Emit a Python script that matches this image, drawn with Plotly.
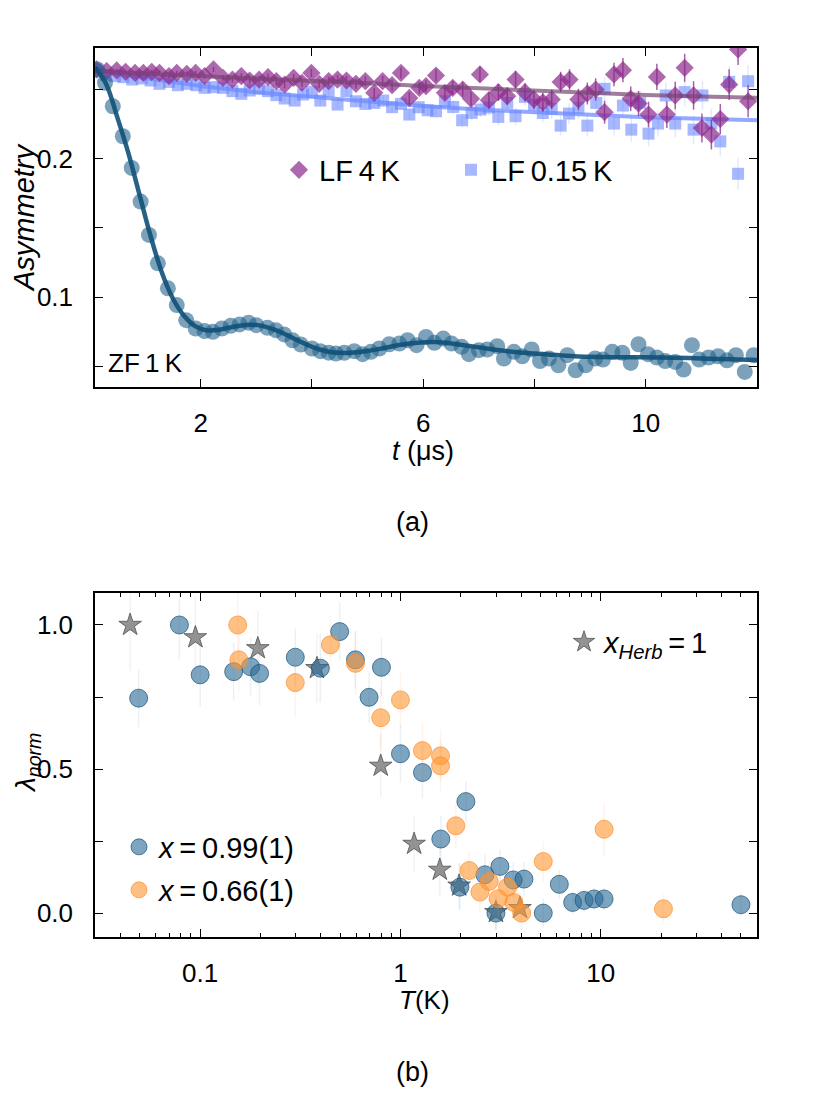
import plotly.graph_objects as go

W, H = 830, 1106

# ---------------- Panel (a): asymmetry vs time ----------------
zf_t = [0.14, 0.28, 0.42, 0.60, 0.76, 0.92, 1.07, 1.23, 1.41, 1.57, 1.74, 1.91, 2.07, 2.22, 2.38,
        2.54, 2.70, 2.86, 3.00, 3.20, 3.35, 3.50, 3.65, 3.80, 4.00, 4.15, 4.30, 4.43, 4.58, 4.76,
        4.91, 5.06, 5.21, 5.39, 5.57, 5.72, 5.88, 6.05, 6.20, 6.36, 6.51, 6.69, 6.82, 7.00, 7.15,
        7.33, 7.45, 7.63, 7.78, 7.95, 8.10, 8.26, 8.43, 8.59, 8.74, 8.92, 9.09, 9.23, 9.40, 9.58,
        9.73, 9.87, 10.04, 10.20, 10.35, 10.53, 10.68, 10.83, 10.96, 11.13, 11.30, 11.46, 11.62,
        11.78, 11.94]
zf_a = [0.2645, 0.2549, 0.2379, 0.2162, 0.1933, 0.1690, 0.1449, 0.1244, 0.1063, 0.0942, 0.0833,
        0.0773, 0.0754, 0.0749, 0.0773, 0.0792, 0.0802, 0.0815, 0.0797, 0.0778, 0.0761, 0.0730,
        0.0688, 0.0657, 0.0628, 0.0609, 0.0598, 0.0592, 0.0597, 0.0609, 0.0587, 0.0604, 0.0628,
        0.0659, 0.0664, 0.0688, 0.0652, 0.0712, 0.0669, 0.0700, 0.0664, 0.0640, 0.0587, 0.0616,
        0.0621, 0.0645, 0.0556, 0.0604, 0.0572, 0.0621, 0.0538, 0.0556, 0.0507, 0.0580, 0.0471,
        0.0507, 0.0556, 0.0548, 0.0604, 0.0597, 0.0524, 0.0659, 0.0587, 0.0563, 0.0538, 0.0531,
        0.0476, 0.0652, 0.0548, 0.0563, 0.0572, 0.0543, 0.0580, 0.0459, 0.0580]

zf_fit_t = [0.1, 0.3, 0.5, 0.7, 0.9, 1.1, 1.3, 1.5, 1.7, 1.9, 2.1, 2.3, 2.5, 2.7, 2.9, 3.1, 3.3,
            3.5, 3.7, 3.9, 4.1, 4.3, 4.5, 4.7, 5.0, 5.3, 5.6, 5.9, 6.2, 6.5, 6.8, 7.2, 7.6, 8.0,
            8.5, 9.0, 9.5, 10.0, 10.5, 11.0, 11.5, 12.0]
zf_fit_a = [0.2660, 0.2540, 0.2300, 0.2040, 0.1740, 0.1440, 0.1180, 0.0990, 0.0865, 0.0790,
            0.0760, 0.0762, 0.0778, 0.0793, 0.0800, 0.0792, 0.0768, 0.0735, 0.0695, 0.0658,
            0.0625, 0.0605, 0.0597, 0.0598, 0.0610, 0.0632, 0.0655, 0.0670, 0.0675, 0.0665,
            0.0648, 0.0625, 0.0605, 0.0592, 0.0578, 0.0568, 0.0565, 0.0565, 0.0562, 0.0556,
            0.0550, 0.0545]

lf4_t = [0.13, 0.31, 0.49, 0.65, 0.82, 0.97, 1.12, 1.26, 1.43, 1.57, 1.75, 1.91, 2.07, 2.23, 2.40,
         2.57, 2.73, 2.88, 3.05, 3.21, 3.36, 3.51, 3.67, 3.82, 3.99, 4.13, 4.30, 4.46, 4.62, 4.79,
         4.96, 5.12, 5.27, 5.44, 5.60, 5.75, 5.93, 6.05, 6.23, 6.39, 6.53, 6.71, 6.86, 7.02, 7.18,
         7.35, 7.51, 7.66, 7.83, 7.99, 8.15, 8.31, 8.47, 8.63, 8.79, 8.95, 9.10, 9.26, 9.43, 9.59,
         9.73, 9.87, 10.05, 10.20, 10.38, 10.53, 10.70, 10.86, 11.01, 11.18, 11.34, 11.50, 11.66,
         11.84]
lf4_a = [0.2645, 0.2633, 0.2638, 0.2628, 0.2620, 0.2620, 0.2628, 0.2620, 0.2597, 0.2620, 0.2613,
         0.2620, 0.2597, 0.2645, 0.2584, 0.2572, 0.2597, 0.2565, 0.2572, 0.2589, 0.2560, 0.2536,
         0.2584, 0.2549, 0.2620, 0.2541, 0.2560, 0.2572, 0.2565, 0.2541, 0.2560, 0.2476, 0.2560,
         0.2531, 0.2620, 0.2439, 0.2512, 0.2524, 0.2601, 0.2476, 0.2512, 0.2500, 0.2433, 0.2609,
         0.2423, 0.2481, 0.2452, 0.2572, 0.2481, 0.2428, 0.2408, 0.2428, 0.2555, 0.2572, 0.2428,
         0.2471, 0.2500, 0.2336, 0.2609, 0.2640, 0.2433, 0.2399, 0.2319, 0.2591, 0.2319, 0.2457,
         0.2657, 0.2457, 0.2222, 0.2174, 0.2287, 0.2536, 0.2790, 0.2415]
lf4_err = [0.0012, 0.0012, 0.0013, 0.0013, 0.0014, 0.0014, 0.0015, 0.0015, 0.0016, 0.0016, 0.0017,
           0.0017, 0.0018, 0.0019, 0.0020, 0.0021, 0.0022, 0.0023, 0.0024, 0.0025, 0.0026, 0.0027,
           0.0028, 0.0029, 0.0030, 0.0031, 0.0032, 0.0033, 0.0034, 0.0035, 0.0036, 0.0037, 0.0038,
           0.0039, 0.0040, 0.0041, 0.0042, 0.0043, 0.0045, 0.0047, 0.0049, 0.0051, 0.0053, 0.0055,
           0.0057, 0.0059, 0.0061, 0.0063, 0.0065, 0.0067, 0.0069, 0.0071, 0.0073, 0.0075, 0.0077,
           0.0079, 0.0081, 0.0083, 0.0085, 0.0087, 0.0089, 0.0091, 0.0093, 0.0095, 0.0097, 0.0099,
           0.0101, 0.0103, 0.0105, 0.0107, 0.0109, 0.0111, 0.0113, 0.0115]

lf015_t = [0.13, 0.30, 0.46, 0.61, 0.77, 0.94, 1.10, 1.26, 1.43, 1.59, 1.75, 1.92, 2.07, 2.23,
           2.40, 2.57, 2.73, 2.88, 3.05, 3.21, 3.36, 3.51, 3.69, 3.84, 4.00, 4.15, 4.30, 4.46,
           4.62, 4.79, 4.96, 5.12, 5.28, 5.44, 5.60, 5.75, 5.92, 6.08, 6.23, 6.39, 6.54, 6.70,
           6.87, 7.03, 7.18, 7.35, 7.51, 7.66, 7.83, 7.99, 8.15, 8.31, 8.47, 8.62, 8.79, 8.95,
           9.11, 9.26, 9.43, 9.59, 9.74, 9.90, 10.05, 10.22, 10.36, 10.53, 10.70, 10.86, 11.02,
           11.18, 11.34, 11.50, 11.66, 11.84]
lf015_a = [0.2645, 0.2604, 0.2597, 0.2589, 0.2572, 0.2580, 0.2565, 0.2541, 0.2555, 0.2531, 0.2541,
           0.2531, 0.2512, 0.2517, 0.2512, 0.2488, 0.2469, 0.2493, 0.2507, 0.2488, 0.2459, 0.2435,
           0.2420, 0.2464, 0.2483, 0.2420, 0.2488, 0.2391, 0.2488, 0.2415, 0.2396, 0.2403, 0.2420,
           0.2372, 0.2396, 0.2319, 0.2372, 0.2350, 0.2343, 0.2415, 0.2374, 0.2278, 0.2331, 0.2355,
           0.2370, 0.2302, 0.2403, 0.2307, 0.2447, 0.2391, 0.2330, 0.2360, 0.2239, 0.2326, 0.2367,
           0.2239, 0.2403, 0.2505, 0.2254, 0.2384, 0.2210, 0.2403, 0.2181, 0.2254, 0.2457, 0.2254,
           0.2481, 0.2210, 0.2457, 0.2254, 0.2125, 0.2555, 0.1891, 0.2560]
lf015_err = [0.0012, 0.0012, 0.0013, 0.0013, 0.0014, 0.0014, 0.0015, 0.0015, 0.0016, 0.0016,
             0.0017, 0.0017, 0.0018, 0.0019, 0.0020, 0.0021, 0.0022, 0.0023, 0.0024, 0.0025,
             0.0026, 0.0027, 0.0028, 0.0029, 0.0030, 0.0031, 0.0032, 0.0033, 0.0034, 0.0035,
             0.0036, 0.0037, 0.0038, 0.0039, 0.0040, 0.0041, 0.0042, 0.0043, 0.0045, 0.0047,
             0.0049, 0.0051, 0.0053, 0.0055, 0.0057, 0.0059, 0.0061, 0.0063, 0.0065, 0.0067,
             0.0069, 0.0071, 0.0073, 0.0075, 0.0077, 0.0079, 0.0081, 0.0083, 0.0085, 0.0087,
             0.0089, 0.0091, 0.0093, 0.0095, 0.0097, 0.0099, 0.0101, 0.0103, 0.0105, 0.0107,
             0.0109, 0.0111, 0.0113, 0.0115]

lf4_fit_t = [0.1, 1.0, 2.0, 3.0, 4.0, 5.0, 6.0, 7.0, 8.0, 9.0, 10.0, 11.0, 12.0]
lf4_fit_a = [0.2630, 0.2615, 0.2600, 0.2583, 0.2565, 0.2545, 0.2525, 0.2507, 0.2490, 0.2474,
             0.2460, 0.2449, 0.2440]
lf015_fit_t = [0.1, 1.0, 2.0, 3.0, 4.0, 5.0, 6.0, 7.0, 8.0, 9.0, 10.0, 11.0, 12.0]
lf015_fit_a = [0.2635, 0.2580, 0.2525, 0.2480, 0.2445, 0.2410, 0.2380, 0.2355, 0.2335, 0.2315,
               0.2300, 0.2288, 0.2277]

a_xticks = [2, 4, 6, 8, 10, 12]
a_xticktext = ["2", "", "6", "", "10", ""]
a_yticks = [0.05, 0.10, 0.15, 0.20, 0.25]
a_yticktext = ["", "0.1", "", "0.2", ""]

# ---------------- Panel (b): lambda_norm vs T ----------------
b99_T = [0.0493, 0.0788, 0.100, 0.147, 0.1785, 0.198, 0.2985, 0.398, 0.497, 0.596, 0.697, 0.8035,
         1.00, 1.288, 1.59, 1.98, 2.121, 2.64, 2.996, 3.137, 3.656, 4.136, 5.164, 6.21, 7.24,
         8.25, 9.26, 10.39, 50.1]
b99_L = [0.746, 1.000, 0.827, 0.838, 0.855, 0.832, 0.888, 0.850, 0.977, 0.879, 0.749, 0.853,
         0.553, 0.488, 0.257, 0.090, 0.387, 0.133, 0.000, 0.162, 0.115, 0.118, 0.000, 0.100,
         0.037, 0.044, 0.049, 0.049, 0.029]
b99_err = [0.10, 0.12, 0.11, 0.10, 0.10, 0.11, 0.10, 0.12, 0.10, 0.10, 0.09, 0.10, 0.10, 0.09,
           0.08, 0.08, 0.07, 0.07, 0.06, 0.06, 0.06, 0.06, 0.05, 0.05, 0.04, 0.04, 0.04, 0.04,
           0.04]

b66_T = [0.154, 0.156, 0.2985, 0.4467, 0.596, 0.797, 1.00, 1.288, 1.585, 1.585, 1.89, 2.203,
         2.492, 2.773, 3.076, 3.428, 3.686, 4.027, 5.164, 10.39, 20.56]
b66_L = [1.000, 0.879, 0.800, 0.931, 0.867, 0.678, 0.740, 0.564, 0.546, 0.511, 0.303, 0.148,
         0.073, 0.110, 0.050, 0.090, 0.037, 0.000, 0.179, 0.291, 0.015]
b66_err = [0.12, 0.11, 0.12, 0.10, 0.11, 0.10, 0.10, 0.10, 0.09, 0.09, 0.08, 0.07, 0.07, 0.07,
           0.06, 0.06, 0.06, 0.06, 0.07, 0.09, 0.05]

bH_T = [0.0447, 0.0947, 0.194, 0.383, 0.797, 1.17, 1.572, 1.963, 2.996, 3.95]
bH_L = [1.000, 0.957, 0.919, 0.850, 0.511, 0.240, 0.150, 0.095, 0.003, 0.017]
bH_err = [0.16, 0.14, 0.13, 0.12, 0.11, 0.10, 0.09, 0.08, 0.06, 0.05]

b_xticks = [0.1, 1, 10]
b_xticktext = ["0.1", "1", "10"]
b_xminor = [0.03, 0.04, 0.05, 0.06, 0.07, 0.08, 0.09,
            0.2, 0.3, 0.4, 0.5, 0.6, 0.7, 0.8, 0.9,
            2, 3, 4, 5, 6, 7, 8, 9, 20, 30, 40, 50, 60]
b_yticks = [0.0, 0.25, 0.5, 0.75, 1.0]
b_yticktext = ["0.0", "", "0.5", "", "1.0"]

FONT = "Liberation Sans, Arial, sans-serif"
TICK_FS = 26
TXT_FS = 29

fig = go.Figure()

# panel (a) traces
fig.add_trace(go.Scatter(x=lf015_t, y=lf015_a, mode="markers", name="LF\u20090.15\u2009K",
                         marker=dict(symbol="square", size=12, color="rgba(95,125,255,0.55)", line=dict(width=0)),
                         error_y=dict(type="data", array=lf015_err, color="rgba(120,140,255,0.2)", thickness=1.5, width=0),
                         xaxis="x", yaxis="y", legend="legend2"))
fig.add_trace(go.Scatter(x=lf015_fit_t, y=lf015_fit_a, mode="lines", showlegend=False,
                         line=dict(color="rgba(110,140,255,0.75)", width=4), xaxis="x", yaxis="y"))
fig.add_trace(go.Scatter(x=lf4_t, y=lf4_a, mode="markers", name="LF\u20094\u2009K",
                         marker=dict(symbol="diamond", size=14, color="rgba(140,40,140,0.7)", line=dict(width=0)),
                         error_y=dict(type="data", array=lf4_err, color="rgba(140,40,140,0.75)", thickness=1.5, width=0),
                         xaxis="x", yaxis="y", legend="legend"))
fig.add_trace(go.Scatter(x=lf4_fit_t, y=lf4_fit_a, mode="lines", showlegend=False,
                         line=dict(color="rgba(120,70,115,0.7)", width=4), xaxis="x", yaxis="y"))
fig.add_trace(go.Scatter(x=zf_t, y=zf_a, mode="markers", showlegend=False,
                         marker=dict(symbol="circle", size=16, color="rgba(35,100,140,0.6)", line=dict(width=0)),
                         xaxis="x", yaxis="y"))
fig.add_trace(go.Scatter(x=zf_fit_t, y=zf_fit_a, mode="lines", showlegend=False, line_shape="spline",
                         line=dict(color="rgba(15,80,120,0.9)", width=4.5), xaxis="x", yaxis="y"))

# panel (b) traces
fig.add_trace(go.Scatter(x=bH_T, y=bH_L, mode="markers", name="<i>x</i><sub><i>Herb</i></sub>\u2009=\u20091",
                         marker=dict(symbol="star", size=17, color="rgba(120,120,120,0.8)",
                                     line=dict(width=1, color="rgba(80,80,80,0.8)")),
                         error_y=dict(type="data", array=bH_err, color="rgba(150,150,150,0.12)", thickness=1.5, width=0),
                         xaxis="x2", yaxis="y2", legend="legend5"))
fig.add_trace(go.Scatter(x=b99_T, y=b99_L, mode="markers", name="<i>x</i>\u2009=\u20090.99(1)",
                         marker=dict(symbol="circle", size=18, color="rgba(40,105,150,0.6)",
                                     line=dict(width=1, color="rgba(25,80,120,0.7)")),
                         error_y=dict(type="data", array=b99_err, color="rgba(60,120,160,0.1)", thickness=1.5, width=0),
                         xaxis="x2", yaxis="y2", legend="legend3"))
fig.add_trace(go.Scatter(x=b66_T, y=b66_L, mode="markers", name="<i>x</i>\u2009=\u20090.66(1)",
                         marker=dict(symbol="circle", size=18, color="rgba(255,150,50,0.6)",
                                     line=dict(width=1, color="rgba(255,140,40,0.7)")),
                         error_y=dict(type="data", array=b66_err, color="rgba(255,160,80,0.12)", thickness=1.5, width=0),
                         xaxis="x2", yaxis="y2", legend="legend4"))

# the page body has an 8 px margin, so the figure is drawn 8 px right and down
OFF = 8

def px(xp):
    return (xp - OFF) / W

def py(yp):
    return 1 - (yp - OFF) / H

axis_common = dict(showline=True, linecolor="black", linewidth=1.5, mirror="allticks",
                   ticks="inside", ticklen=8, tickwidth=1.3, tickcolor="black",
                   showgrid=False, zeroline=False, automargin=False,
                   tickfont=dict(family=FONT, size=TICK_FS, color="black"))

legend_common = dict(bgcolor="rgba(0,0,0,0)", borderwidth=0, xanchor="left", yanchor="middle",
                     font=dict(family=FONT, size=TXT_FS, color="black"), itemsizing="trace")


def label(text, xp, yp, size, angle=0, xanchor="center"):
    return dict(text=text, x=px(xp), y=py(yp), xref="paper", yref="paper", showarrow=False,
                xanchor=xanchor, yanchor="middle", textangle=angle,
                font=dict(family=FONT, size=size, color="black"))


fig.update_layout(
    width=W, height=H, margin=dict(l=0, r=0, t=0, b=0),
    paper_bgcolor="white", plot_bgcolor="white",
    font=dict(family=FONT, color="black"),
    xaxis=dict(domain=[px(95), px(757)], range=[0.1, 12], anchor="y",
               tickvals=a_xticks, ticktext=a_xticktext, ticklabelstandoff=12, **axis_common),
    yaxis=dict(domain=[py(387), py(48)], range=[0.035, 0.28], anchor="x",
               tickvals=a_yticks, ticktext=a_yticktext, ticklabelstandoff=15, **axis_common),
    xaxis2=dict(domain=[px(95), px(757)], type="log", range=[-1.525, 1.78], anchor="y2",
                tickvals=b_xticks, ticktext=b_xticktext, ticklabelstandoff=12,
                minor=dict(tickvals=b_xminor, ticks="inside", ticklen=4, tickwidth=1.1, tickcolor="black"),
                **axis_common),
    yaxis2=dict(domain=[py(937), py(593)], range=[-0.083, 1.111], anchor="x2",
                tickvals=b_yticks, ticktext=b_yticktext, ticklabelstandoff=15, **axis_common),
    legend=dict(x=px(279), y=py(170), **legend_common),
    legend2=dict(x=px(451), y=py(170), **legend_common),
    legend3=dict(x=px(119), y=py(847), **legend_common),
    legend4=dict(x=px(119), y=py(890), **legend_common),
    legend5=dict(x=px(564), y=py(642), **legend_common),
    annotations=[
        label("<i>Asymmetry</i>", 24, 218, 29, angle=-90),
        label("<i>t</i> (μs)", 423, 451, 27),
        label("ZF\u20091\u2009K", 106, 363, 26, xanchor="left"),
        label("(a)", 412, 522, 27),
        label("<i>λ</i><sub><i>norm</i></sub>", 27, 763, 28, angle=-90),
        label("<i>T</i>(K)", 425, 1000, 26),
        label("(b)", 412, 1072, 27),
    ],
)

fig.write_html("out.html")
